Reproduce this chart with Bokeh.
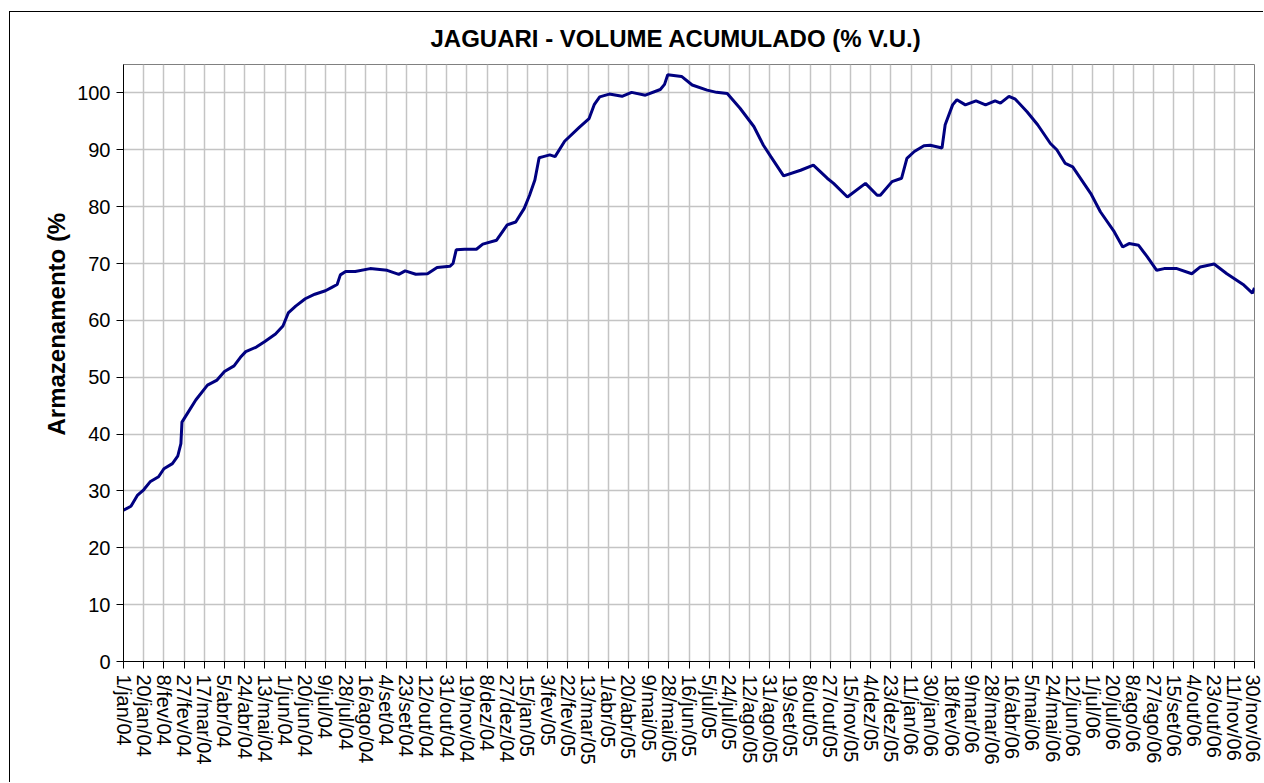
import math
import pandas as pd
from bokeh.plotting import figure
from bokeh.models import Range1d, FixedTicker, Title, ColumnDataSource
from bokeh.embed import file_html
from bokeh.resources import INLINE

titulo = "JAGUARI - VOLUME ACUMULADO (% V.U.)"
rotulo_y = "Armazenamento (%"

datas = [
    "2004-01-01", "2004-01-08", "2004-01-14", "2004-01-20", "2004-01-26", "2004-02-03",
    "2004-02-08", "2004-02-16", "2004-02-21", "2004-02-24", "2004-02-25", "2004-03-01",
    "2004-03-09", "2004-03-20", "2004-03-29", "2004-04-05", "2004-04-14", "2004-04-20",
    "2004-04-25", "2004-05-05", "2004-05-13", "2004-05-23", "2004-05-30", "2004-06-04",
    "2004-06-11", "2004-06-20", "2004-06-29", "2004-07-09", "2004-07-15", "2004-07-20",
    "2004-07-23", "2004-07-28", "2004-08-06", "2004-08-20", "2004-09-05", "2004-09-16",
    "2004-09-22", "2004-10-02", "2004-10-13", "2004-10-22", "2004-11-03", "2004-11-06",
    "2004-11-09", "2004-11-17", "2004-11-28", "2004-12-04", "2004-12-17", "2004-12-27",
    "2005-01-04", "2005-01-12", "2005-01-17", "2005-01-22", "2005-01-26", "2005-01-30",
    "2005-02-05", "2005-02-10", "2005-02-19", "2005-03-05", "2005-03-14", "2005-03-19",
    "2005-03-24", "2005-04-02", "2005-04-14", "2005-04-23", "2005-05-06", "2005-05-20",
    "2005-05-24", "2005-05-27", "2005-06-09", "2005-06-19", "2005-07-03", "2005-07-12",
    "2005-07-22", "2005-08-03", "2005-08-16", "2005-08-25", "2005-09-01", "2005-09-13",
    "2005-09-29", "2005-10-11", "2005-10-24", "2005-10-30", "2005-11-12", "2005-11-29",
    "2005-12-10", "2005-12-13", "2005-12-24", "2006-01-02", "2006-01-07", "2006-01-14",
    "2006-01-23", "2006-01-29", "2006-02-09", "2006-02-12", "2006-02-19", "2006-02-23",
    "2006-03-03", "2006-03-13", "2006-03-22", "2006-03-31", "2006-04-05", "2006-04-13",
    "2006-04-19", "2006-04-30", "2006-05-10", "2006-05-22", "2006-05-28", "2006-06-05",
    "2006-06-12", "2006-06-29", "2006-07-08", "2006-07-21", "2006-07-29", "2006-08-04",
    "2006-08-13", "2006-08-21", "2006-08-30", "2006-09-06", "2006-09-18", "2006-10-02",
    "2006-10-10", "2006-10-23", "2006-11-04", "2006-11-20", "2006-11-28", "2006-11-30",
]
volume = [
    26.6, 27.3, 29.2, 30.2, 31.6, 32.5,
    33.9, 34.8, 36.1, 38.3, 42.1, 43.6,
    46.0, 48.6, 49.5, 51.0, 52.0, 53.5,
    54.5, 55.3, 56.3, 57.6, 59.0, 61.3,
    62.5, 63.8, 64.6, 65.2, 65.8, 66.3,
    68.0, 68.6, 68.6, 69.1, 68.8, 68.1,
    68.7, 68.1, 68.2, 69.3, 69.5, 70.0,
    72.4, 72.5, 72.5, 73.4, 74.1, 76.8,
    77.3, 79.7, 82.0, 84.7, 88.6, 88.8,
    89.1, 88.8, 91.5, 94.0, 95.5, 98.0,
    99.3, 99.8, 99.4, 100.1, 99.6, 100.6,
    101.5, 103.2, 102.9, 101.4, 100.5, 100.1,
    99.9, 97.3, 94.1, 90.8, 88.8, 85.4,
    86.4, 87.3, 85.0, 84.1, 81.7, 84.1,
    82.0, 82.0, 84.4, 85.0, 88.5, 89.7,
    90.7, 90.8, 90.3, 94.4, 97.9, 98.8,
    97.9, 98.6, 97.9, 98.6, 98.2, 99.4,
    98.9, 96.7, 94.4, 91.1, 90.0, 87.6,
    87.0, 82.3, 79.1, 75.6, 72.9, 73.5,
    73.2, 71.2, 68.8, 69.1, 69.1, 68.2,
    69.4, 69.9, 68.2, 66.2, 64.8, 65.7,
]

rotulos_x = [
    "1/jan/04", "20/jan/04", "8/fev/04", "27/fev/04", "17/mar/04", "5/abr/04", "24/abr/04",
    "13/mai/04", "1/jun/04", "20/jun/04", "9/jul/04", "28/jul/04", "16/ago/04", "4/set/04",
    "23/set/04", "12/out/04", "31/out/04", "19/nov/04", "8/dez/04", "27/dez/04", "15/jan/05",
    "3/fev/05", "22/fev/05", "13/mar/05", "1/abr/05", "20/abr/05", "9/mai/05", "28/mai/05",
    "16/jun/05", "5/jul/05", "24/jul/05", "12/ago/05", "31/ago/05", "19/set/05", "8/out/05",
    "27/out/05", "15/nov/05", "4/dez/05", "23/dez/05", "11/jan/06", "30/jan/06", "18/fev/06",
    "9/mar/06", "28/mar/06", "16/abr/06", "5/mai/06", "24/mai/06", "12/jun/06", "1/jul/06",
    "20/jul/06", "8/ago/06", "27/ago/06", "15/set/06", "4/out/06", "23/out/06", "11/nov/06",
    "30/nov/06",
]
ticks_y = [0, 10, 20, 30, 40, 50, 60, 70, 80, 90, 100]

meses = {"jan": 1, "fev": 2, "mar": 3, "abr": 4, "mai": 5, "jun": 6,
         "jul": 7, "ago": 8, "set": 9, "out": 10, "nov": 11, "dez": 12}
inicio = pd.Timestamp("2004-01-01")


def dia_data(s):
    return (pd.Timestamp(s) - inicio).days


def dia_rotulo(r):
    d, m, a = r.split("/")
    return (pd.Timestamp(year=2000 + int(a), month=meses[m], day=int(d)) - inicio).days


x_dias = [dia_data(s) for s in datas]
ticks_x = [dia_rotulo(r) for r in rotulos_x]

FONTE = "Liberation Sans"

p = figure(width=1254, height=771, output_backend="svg", toolbar_location=None,
           x_range=Range1d(ticks_x[0], ticks_x[-1]), y_range=Range1d(0, 105),
           min_border_left=113, min_border_right=10, min_border_top=52, min_border_bottom=122)
p.styles = {"border-top": "1px solid black", "border-left": "1px solid black",
            "margin-left": "9px", "margin-top": "11px"}
p.background_fill_color = "white"
p.border_fill_color = "white"
p.outline_line_color = "#808080"
p.outline_line_width = 1

p.title.text = titulo
p.title.text_font = FONTE
p.title.text_font_size = "24px"
p.title.text_font_style = "bold"
p.title.text_color = "black"
p.title.align = "left"
p.title.vertical_align = "top"
p.title.offset = 307
p.title.standoff = 22

src = ColumnDataSource(dict(x=x_dias, y=volume))
p.line("x", "y", source=src, line_color="#000080", line_width=3)

# axes
p.xaxis.ticker = FixedTicker(ticks=ticks_x)
p.xaxis.major_label_overrides = {t: r for t, r in zip(ticks_x, rotulos_x)}
p.xaxis.major_label_orientation = -math.pi / 2
p.yaxis.ticker = FixedTicker(ticks=ticks_y)
for ax in (p.xaxis, p.yaxis):
    ax.major_label_text_font = FONTE
    ax.major_label_text_font_size = "20px"
    ax.major_label_text_color = "black"
    ax.axis_line_color = "black"
    ax.axis_line_width = 1
    ax.major_tick_line_color = "black"
    ax.major_tick_out = 7
    ax.major_tick_in = 0
    ax.minor_tick_out = 0
    ax.minor_tick_in = 0
    ax.major_label_standoff = 6

p.xgrid.ticker = FixedTicker(ticks=ticks_x)
p.ygrid.ticker = FixedTicker(ticks=ticks_y)
for g in (p.xgrid, p.ygrid):
    g.grid_line_color = "#c4c4c4"
    g.grid_line_width = 1.5

rot_y = Title(text=rotulo_y, align="left", offset=226, standoff=9,
              text_font=FONTE, text_font_size="24px", text_font_style="bold",
              text_color="black")
p.add_layout(rot_y, "left")

open("out.html", "w").write(file_html(p, INLINE))
